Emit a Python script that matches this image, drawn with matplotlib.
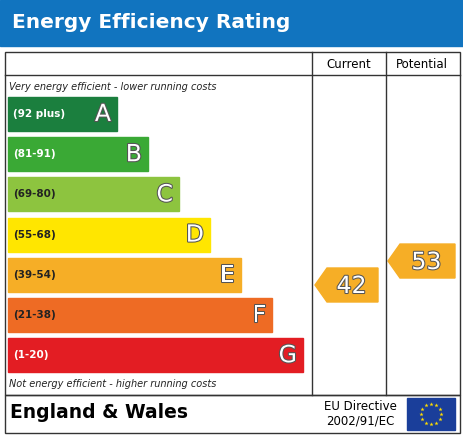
import matplotlib.pyplot as plt
from matplotlib.patches import Rectangle, Polygon
import matplotlib.patheffects as pe
import numpy as np

letters = ['A', 'B', 'C', 'D', 'E', 'F', 'G']
ranges = ['(92 plus)', '(81-91)', '(69-80)', '(55-68)', '(39-54)', '(21-38)', '(1-20)']
colors = ['#1b7f3e', '#3aa935', '#8dc43f', '#ffe600', '#f6ae26', '#ee6b24', '#e31d23']
current = 42
potential = 53

W, H = 464, 437
fig = plt.figure(figsize=(W / 100, H / 100), dpi=100)
ax = fig.add_axes([0, 0, 1, 1])
ax.set_xlim(0, W)
ax.set_ylim(H, 0)
ax.axis('off')

# title bar
ax.add_patch(Rectangle((0, 0), W, 46, color='#1174bf'))
ax.text(12, 23, 'Energy Efficiency Rating', color='white', fontsize=14.5, fontweight='bold', va='center')

# frame
lw = 1.0
ax.add_patch(Rectangle((5, 52), 455, 343, fill=False, lw=lw, ec='#333333'))
ax.add_patch(Rectangle((5, 395), 455, 38, fill=False, lw=lw, ec='#333333'))
ax.plot([312, 312], [52, 395], color='#333333', lw=lw)
ax.plot([386, 386], [52, 395], color='#333333', lw=lw)
ax.plot([5, 460], [75, 75], color='#333333', lw=lw)
ax.text(349, 64, 'Current', fontsize=8.5, ha='center', va='center')
ax.text(422, 64, 'Potential', fontsize=8.5, ha='center', va='center')

ax.text(9, 87, 'Very energy efficient - lower running costs', fontsize=7, style='italic', va='center', color='#222222')
ax.text(9, 384, 'Not energy efficient - higher running costs', fontsize=7, style='italic', va='center', color='#222222')

outline = [pe.withStroke(linewidth=1.5, foreground='#555555')]
for i, (l, r, c) in enumerate(zip(letters, ranges, colors)):
    top = 97 + i * 40.2
    right = 117 + i * 31
    ax.add_patch(Rectangle((8, top), right - 8, 34, color=c))
    ax.text(13, top + 17, r, fontsize=7.5, fontweight='bold', va='center',
            color='white' if i in (0, 1, 6) else '#222222')
    ax.text(right - 6, top + 17, l, fontsize=17, ha='right', va='center', color='white', path_effects=outline)


def arrow(x0, x1, val):
    yc = 285 - (val - 42) * 2.18
    h = 17
    pts = [(x0, yc), (x0 + 12, yc - h), (x1, yc - h), (x1, yc + h), (x0 + 12, yc + h)]
    ax.add_patch(Polygon(pts, color='#f6ae26'))
    ax.text((x0 + x1) / 2 + 5, yc + 1, str(val), fontsize=17, ha='center', va='center',
            color='white', path_effects=outline)


arrow(315, 378, current)
arrow(388, 455, potential)

ax.text(10, 413, 'England & Wales', fontsize=13.5, fontweight='bold', va='center')
ax.text(360, 406, 'EU Directive', fontsize=8.5, ha='center', va='center')
ax.text(360, 421, '2002/91/EC', fontsize=8.5, ha='center', va='center')
ax.add_patch(Rectangle((407, 398), 48, 32, color='#1a3e9a'))
ang = np.linspace(0, 2 * np.pi, 12, endpoint=False)
ax.scatter(431 + 10 * np.cos(ang), 414 + 10 * np.sin(ang), marker='*', s=10, color='#ffdd00', lw=0)

fig.savefig('out.png', dpi=100)
